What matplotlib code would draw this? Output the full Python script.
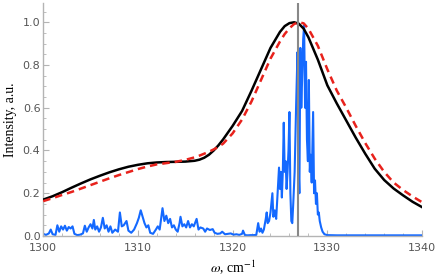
import matplotlib
matplotlib.use("Agg")
import matplotlib.pyplot as plt
import numpy as np

plt.rcParams["mathtext.fontset"] = "stix"

# smooth envelopes
w_env = [1300, 1301, 1302, 1303, 1304, 1305, 1306, 1307, 1308, 1309,
         1310, 1311, 1312, 1313, 1314, 1315, 1316, 1316.5, 1317, 1317.5,
         1318, 1318.5, 1319, 1320, 1321, 1322, 1323, 1324, 1325, 1325.5,
         1326, 1326.5, 1327, 1327.5, 1328, 1329, 1330, 1331, 1332, 1333,
         1334, 1335, 1336, 1337, 1338, 1339, 1340]
black = [0.170, 0.186, 0.205, 0.226, 0.246, 0.265, 0.282, 0.298, 0.312, 0.324,
         0.333, 0.340, 0.344, 0.346, 0.347, 0.348, 0.352, 0.357, 0.366, 0.380,
         0.400, 0.424, 0.452, 0.515, 0.585, 0.680, 0.780, 0.880, 0.955, 0.982,
         0.996, 1.000, 0.993, 0.970, 0.930, 0.825, 0.705, 0.620, 0.540, 0.460,
         0.385, 0.315, 0.262, 0.222, 0.190, 0.160, 0.135]
red = [0.163, 0.177, 0.192, 0.206, 0.222, 0.238, 0.254, 0.270, 0.285, 0.299,
       0.313, 0.325, 0.335, 0.341, 0.347, 0.356, 0.368, 0.376, 0.385, 0.394,
       0.405, 0.417, 0.432, 0.480, 0.545, 0.630, 0.730, 0.830, 0.910, 0.945,
       0.972, 0.992, 1.000, 0.995, 0.970, 0.890, 0.780, 0.680, 0.600, 0.515,
       0.435, 0.362, 0.300, 0.250, 0.215, 0.185, 0.158]

# computed spectrum
w_spec = [1300.0, 1300.3, 1300.6, 1300.8, 1301.0, 1301.3, 1301.5, 1301.7, 1301.9, 1302.1,
          1302.3, 1302.5, 1302.7, 1302.9, 1303.1, 1303.3, 1303.6, 1303.9, 1304.2, 1304.4,
          1304.6, 1304.8, 1305.0, 1305.2, 1305.35, 1305.5, 1305.7, 1305.9, 1306.1, 1306.3,
          1306.5, 1306.7, 1306.9, 1307.1, 1307.3, 1307.6, 1307.9, 1308.1, 1308.3, 1308.5,
          1308.8, 1309.0, 1309.3, 1309.6, 1309.9, 1310.1, 1310.3, 1310.5, 1310.7, 1310.9,
          1311.1, 1311.3, 1311.6, 1311.9, 1312.1, 1312.3, 1312.6, 1312.8, 1313.0, 1313.2,
          1313.4, 1313.6, 1313.8, 1314.0, 1314.2, 1314.4, 1314.5, 1314.7, 1314.9, 1315.1,
          1315.3, 1315.5, 1315.7, 1315.9, 1316.2, 1316.4, 1316.6, 1316.9, 1317.1, 1317.3,
          1317.6, 1317.9, 1318.1, 1318.4, 1318.7, 1318.9, 1319.2, 1319.5, 1319.8, 1320.1,
          1320.4, 1320.7, 1321.0, 1321.1, 1321.3, 1321.6, 1321.9, 1322.2, 1322.5, 1322.7,
          1322.85, 1323.0, 1323.15, 1323.3, 1323.5, 1323.6, 1323.7, 1323.85, 1324.0, 1324.2,
          1324.3, 1324.45, 1324.6, 1324.75, 1324.9, 1325.0, 1325.1, 1325.2, 1325.3, 1325.4,
          1325.5, 1325.6, 1325.7, 1325.8, 1325.9, 1326.0, 1326.1, 1326.2, 1326.3, 1326.4,
          1326.55, 1326.7, 1326.85, 1326.95, 1327.05, 1327.15, 1327.25, 1327.35, 1327.45, 1327.55,
          1327.65, 1327.75, 1327.85, 1327.95, 1328.05, 1328.15, 1328.25, 1328.35, 1328.5, 1328.6,
          1328.7, 1328.8, 1328.9, 1329.0, 1329.1, 1329.2, 1329.35, 1329.5, 1329.7, 1330.0,
          1331.0, 1340.0]
spec = [0.010, 0.005, 0.012, 0.030, 0.008, 0.005, 0.050, 0.020, 0.045, 0.030,
        0.048, 0.025, 0.042, 0.035, 0.045, 0.010, 0.004, 0.006, 0.012, 0.048,
        0.020, 0.040, 0.055, 0.035, 0.075, 0.030, 0.045, 0.020, 0.040, 0.085,
        0.035, 0.050, 0.020, 0.045, 0.015, 0.030, 0.020, 0.110, 0.045, 0.050,
        0.070, 0.025, 0.015, 0.030, 0.060, 0.085, 0.120, 0.090, 0.060, 0.040,
        0.050, 0.015, 0.010, 0.030, 0.045, 0.030, 0.130, 0.070, 0.095, 0.060,
        0.080, 0.040, 0.050, 0.030, 0.020, 0.060, 0.090, 0.045, 0.055, 0.040,
        0.070, 0.040, 0.055, 0.045, 0.080, 0.030, 0.040, 0.035, 0.020, 0.035,
        0.028, 0.032, 0.015, 0.010, 0.012, 0.020, 0.008, 0.010, 0.012, 0.006,
        0.008, 0.005, 0.010, 0.025, 0.004, 0.003, 0.004, 0.004, 0.005, 0.060,
        0.020, 0.035, 0.015, 0.030, 0.080, 0.110, 0.060, 0.070, 0.110, 0.200,
        0.090, 0.120, 0.080, 0.200, 0.320, 0.220, 0.300, 0.180, 0.300, 0.530,
        0.300, 0.350, 0.220, 0.300, 0.400, 0.580, 0.200, 0.070, 0.060, 0.150,
        0.300, 0.600, 0.860, 0.350, 0.200, 0.880, 0.600, 0.750, 0.920, 0.985,
        0.600, 0.815, 0.450, 0.350, 0.730, 0.300, 0.380, 0.250, 0.580, 0.200,
        0.260, 0.150, 0.200, 0.100, 0.110, 0.070, 0.040, 0.020, 0.008, 0.004,
        0.003, 0.003]

w_line = 1326.9
xticks = [1300, 1310, 1320, 1330, 1340]
yticks = [0.0, 0.2, 0.4, 0.6, 0.8, 1.0]

fig = plt.figure(figsize=(4.36, 2.76), dpi=100)
ax = fig.add_axes([0.099, 0.145, 0.869, 0.844])

ax.plot(w_spec, spec, color="#1469ff", lw=1.5, zorder=2)
ax.plot(w_env, black, color="black", lw=1.8, zorder=3)
ax.plot(w_env, red, color="#e8221c", lw=1.8, ls=(0, (3, 2)), zorder=4)
ax.axvline(w_line, color="#888888", lw=1.5, zorder=5)

ax.set_xlim(1300, 1340)
ax.set_ylim(0, 1.09)
ax.set_xticks(xticks)
ax.set_yticks(yticks)
ax.set_xticks(np.arange(1300, 1341, 2), minor=True)
ax.set_yticks(np.arange(0, 1.06, 0.05), minor=True)
ax.yaxis.set_major_formatter(matplotlib.ticker.FormatStrFormatter("%.1f"))

for s in ["top", "right"]:
    ax.spines[s].set_visible(False)
for s in ["left", "bottom"]:
    ax.spines[s].set_color("#b4b4b4")
    ax.spines[s].set_linewidth(1.0)

ax.tick_params(which="both", direction="in", color="#b4b4b4", labelcolor="#555555",
               labelsize=8)
ax.tick_params(which="major", length=4, width=0.8)
ax.tick_params(axis="x", pad=5)
ax.tick_params(axis="y", pad=2)
ax.tick_params(which="minor", length=2, width=0.6)

ax.set_xlabel(r"$\omega$, cm$^{-1}$", fontsize=10, fontfamily="Liberation Serif", labelpad=4)
ax.set_ylabel("Intensity, a.u.", fontsize=10, fontfamily="Liberation Serif", labelpad=4)

fig.savefig("out.png", dpi=100)
